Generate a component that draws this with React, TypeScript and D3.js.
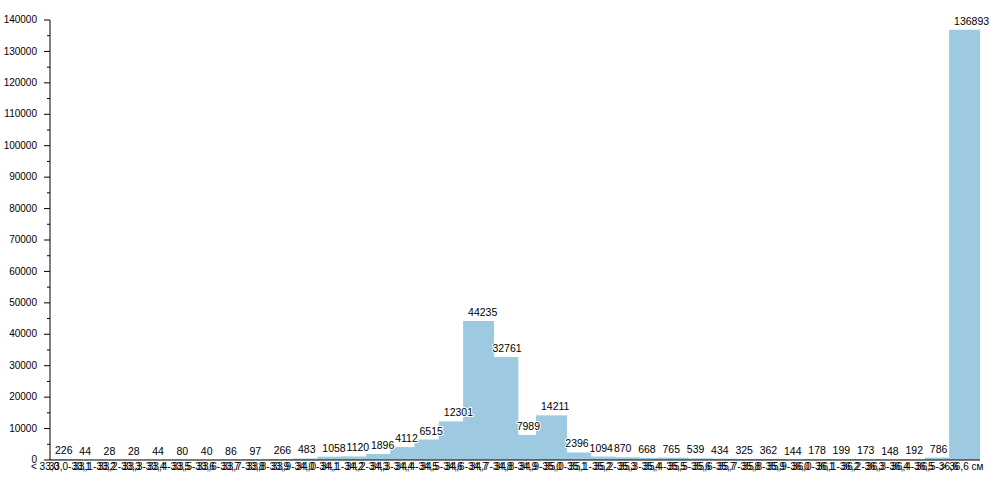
import React from "react";
import * as d3 from "d3";

const categories: string[] = [
  "< 33,0",
  "33,0-33,1", "33,1-33,2", "33,2-33,3", "33,3-33,4", "33,4-33,5", "33,5-33,6",
  "33,6-33,7", "33,7-33,8", "33,8-33,9", "33,9-34,0", "34,0-34,1", "34,1-34,2",
  "34,2-34,3", "34,3-34,4", "34,4-34,5", "34,5-34,6", "34,6-34,7", "34,7-34,8",
  "34,8-34,9", "34,9-35,0", "35,0-35,1", "35,1-35,2", "35,2-35,3", "35,3-35,4",
  "35,4-35,5", "35,5-35,6", "35,6-35,7", "35,7-35,8", "35,8-35,9", "35,9-36,0",
  "36,0-36,1", "36,1-36,2", "36,2-36,3", "36,3-36,4", "36,4-36,5", "36,5-36,6",
  "> 36,6 см",
];

const counts: number[] = [
  226, 44, 28, 28, 44, 80, 40, 86, 97, 266,
  483, 1058, 1120, 1896, 4112, 6515, 12301, 44235, 32761, 7989,
  14211, 2396, 1094, 870, 668, 765, 539, 434, 325, 362,
  144, 178, 199, 173, 148, 192, 786, 136893,
];

const yMax = 140000;
const yMajorStep = 10000;
const yMinorStep = 5000;

const FONT = "'Liberation Sans', Arial, Helvetica, sans-serif";

export default function App() {
  const width = 1000;
  const height = 500;
  const left = 50;
  const top = 20;
  const bottom = 460;
  const step = 24.3;
  const axisRight = 980;

  const x = d3
    .scaleBand<string>()
    .domain(categories)
    .range([left, left + step * categories.length])
    .padding(0);
  const barW = x.bandwidth() * 1.275;

  const xl = d3
    .scalePoint<string>()
    .domain(categories)
    .range([45, 962]);

  const y = d3.scaleLinear().domain([0, yMax]).range([bottom, top]);

  const major = d3.range(0, yMax + 1, yMajorStep);
  const minor = d3.range(yMinorStep, yMax, yMajorStep);

  return (
    <svg
      width={width}
      height={height}
      style={{ position: "absolute", left: 0, top: 0, background: "#fff" }}
      fontFamily={FONT}
    >
      <g>
        {counts.map((v, i) => (
          <rect
            key={i}
            x={x(categories[i])!}
            y={y(v)}
            width={barW}
            height={bottom - y(v)}
            fill="#9ecae1"
          />
        ))}
      </g>
      <g>
        {counts.map((v, i) => (
          <text
            key={i}
            x={x(categories[i])! + 5}
            y={y(v) - 5}
            fontSize={10.5}
            fill="#000"
            stroke="#fff"
            strokeWidth={2}
            paintOrder="stroke"
          >
            {v}
          </text>
        ))}
      </g>
      {/* y axis */}
      <g>
        <line x1={left} x2={left} y1={top} y2={bottom} stroke="#000" />
        {major.map((t) => (
          <g key={"M" + t}>
            <line x1={left - 6} x2={left} y1={y(t)} y2={y(t)} stroke="#000" />
            <text
              x={37}
              y={y(t)}
              dy="0.32em"
              textAnchor="end"
              fontSize={10}
              fill="#000"
            >
              {t}
            </text>
          </g>
        ))}
        {minor.map((t) => (
          <line key={"m" + t} x1={left - 3} x2={left} y1={y(t)} y2={y(t)} stroke="#000" />
        ))}
      </g>
      {/* x axis */}
      <g>
        <line x1={left} x2={axisRight} y1={bottom} y2={bottom} stroke="#000" />
        {categories.map((c) => (
          <text
            key={c}
            x={xl(c)!}
            y={470}
            textAnchor="middle"
            fontSize={10}
            fill="#000"
          >
            {c}
          </text>
        ))}
      </g>
    </svg>
  );
}
